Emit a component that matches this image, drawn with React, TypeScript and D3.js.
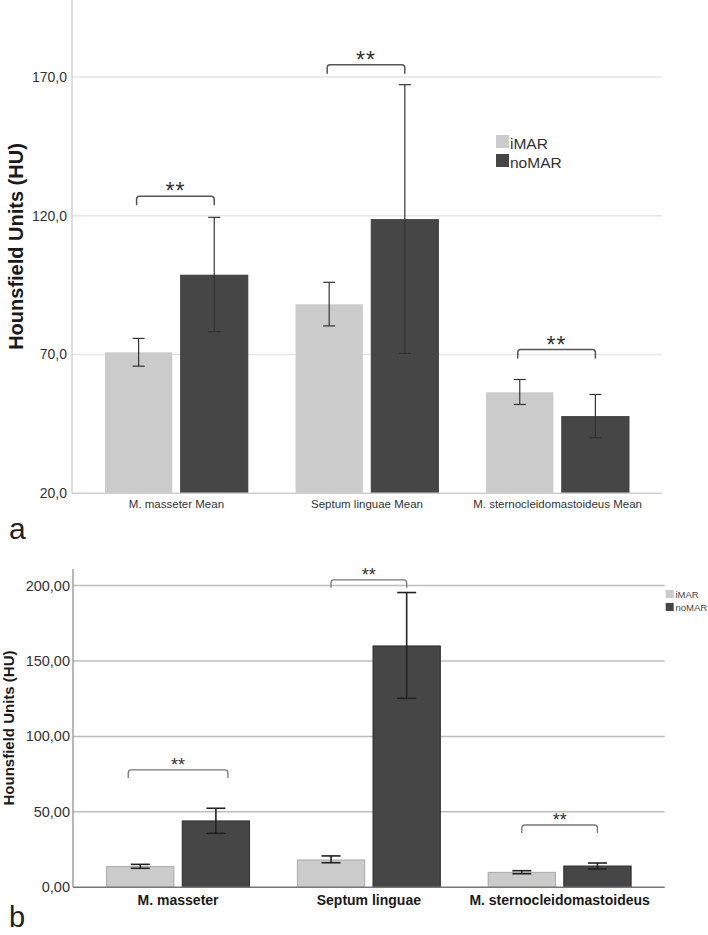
import React from "react";
import * as d3 from "d3";

// ---------- Data: panel a ----------
const catsA = ["M. masseter Mean", "Septum linguae Mean", "M. sternocleidomastoideus Mean"];
const iMAR_A = [70.8, 88.1, 56.4];
const iMAR_A_lo = [65.8, 80.3, 52.0];
const iMAR_A_hi = [75.8, 96.0, 61.0];
const noMAR_A = [98.6, 118.6, 47.7];
const noMAR_A_lo = [78.2, 70.4, 40.0];
const noMAR_A_hi = [119.4, 167.2, 55.6];
const bracketA = [127.0, 174.4, 71.8];
const ticksA = [20, 70, 120, 170];

// ---------- Data: panel b ----------
const catsB = ["M. masseter", "Septum linguae", "M. sternocleidomastoideus"];
const iMAR_B = [13.7, 18.1, 9.9];
const iMAR_B_lo = [12.6, 16.3, 9.0];
const iMAR_B_hi = [15.2, 20.8, 11.0];
const noMAR_B = [44.0, 160.0, 14.1];
const noMAR_B_lo = [35.8, 125.3, 12.1];
const noMAR_B_hi = [52.4, 195.4, 16.1];
const bracketB = [77.8, 203.8, 41.3];
const bracketPadB = [12, 0, 0];
const ticksB = [0, 50, 100, 150, 200];

const seriesNames = ["iMAR", "noMAR"];
const LIGHT = "#cbcbcb";
const DARK = "#464646";
const FONT = "'Liberation Sans', Arial, Helvetica, sans-serif";

const commaFmt = (digits: number) => (v: number) => d3.format(`.${digits}f`)(v).replace(".", ",");

function bracketPath(x1: number, x2: number, y: number, leg: number) {
  const r = 3;
  return `M${x1},${y + leg} L${x1},${y + r} Q${x1},${y} ${x1 + r},${y} L${x2 - r},${y} Q${x2},${y} ${x2},${y + r} L${x2},${y + leg}`;
}

function PanelA() {
  const x = d3.scaleBand<string>().domain(catsA).range([72, 662]).paddingInner(0.25).paddingOuter(0.173);
  const sub = d3.scaleBand<string>().domain(seriesNames).range([0, x.bandwidth()]).paddingInner(0.11);
  const y = d3.scaleLinear().domain([20, 197.7]).range([493.3, 0]);
  const fmt = commaFmt(1);
  const series = [
    { name: "iMAR", v: iMAR_A, lo: iMAR_A_lo, hi: iMAR_A_hi, fill: LIGHT },
    { name: "noMAR", v: noMAR_A, lo: noMAR_A_lo, hi: noMAR_A_hi, fill: DARK },
  ];
  const cap = 6;
  return (
    <g>
      {ticksA.filter((t) => t > 20).map((t) => (
        <line key={t} x1={72} x2={662} y1={y(t)} y2={y(t)} stroke="#e6e6e6" strokeWidth={1.5} />
      ))}
      {series.map((s) =>
        catsA.map((c, i) => {
          const bx = (x(c) as number) + (sub(s.name) as number);
          return (
            <rect key={s.name + c} x={bx} y={y(s.v[i])} width={sub.bandwidth()} height={y(20) - y(s.v[i])}
              fill={s.fill} stroke={s.name === "noMAR" ? "#3a3a3a" : "none"} strokeWidth={0.8} />
          );
        })
      )}
      {series.map((s) =>
        catsA.map((c, i) => {
          const cx = (x(c) as number) + (sub(s.name) as number) + sub.bandwidth() / 2;
          return (
            <g key={"e" + s.name + c} stroke="#333" strokeWidth={1.2}>
              <line x1={cx} x2={cx} y1={y(s.lo[i])} y2={y(s.hi[i])} />
              <line x1={cx - cap} x2={cx + cap} y1={y(s.lo[i])} y2={y(s.lo[i])} />
              <line x1={cx - cap} x2={cx + cap} y1={y(s.hi[i])} y2={y(s.hi[i])} />
            </g>
          );
        })
      )}
      <line x1={72} x2={72} y1={0} y2={y(20)} stroke="#c8c8c8" strokeWidth={1.2} />
      <line x1={72} x2={662} y1={y(20)} y2={y(20)} stroke="#cfcfcf" strokeWidth={1.5} />
      {ticksA.map((t) => (
        <text key={t} x={67} y={y(t) + 5} textAnchor="end" fontSize={14} fill="#333">{fmt(t)}</text>
      ))}
      {catsA.map((c) => (
        <text key={c} x={(x(c) as number) + x.bandwidth() / 2} y={508} textAnchor="middle" fontSize={11.5} fill="#333">{c}</text>
      ))}
      {catsA.map((c, i) => {
        const x1 = (x(c) as number) + (sub("iMAR") as number) + sub.bandwidth() / 2 - 2;
        const x2 = (x(c) as number) + (sub("noMAR") as number) + sub.bandwidth() / 2;
        const by = y(bracketA[i]);
        return (
          <g key={"b" + c}>
            <path d={bracketPath(x1, x2, by, 9)} fill="none" stroke="#555" strokeWidth={1.5} />
            <text x={(x1 + x2) / 2} y={by + 3} textAnchor="middle" fontSize={23} letterSpacing={1} fill="#333">**</text>
          </g>
        );
      })}
      <text transform={`translate(23,246.5) rotate(-90)`} textAnchor="middle" fontSize={20} fontWeight="bold" fill="#1a1a1a">Hounsfield Units (HU)</text>
      {seriesNames.map((n, i) => (
        <g key={n}>
          <rect x={496} y={135 + i * 19} width={13} height={13} fill={i === 0 ? LIGHT : DARK} />
          <text x={510} y={148.5 + i * 19} fontSize={15.5} fill="#333">{n}</text>
        </g>
      ))}
      <text x={9} y={539} fontSize={30} fill="#222">a</text>
    </g>
  );
}

function PanelB() {
  const x = d3.scaleBand<string>().domain(catsB).range([73, 664.7]).paddingInner(0.2506).paddingOuter(0.176);
  const sub = d3.scaleBand<string>().domain(seriesNames).range([0, x.bandwidth()]).paddingInner(0.11);
  const y = d3.scaleLinear().domain([0, 211]).range([887.3, 569]);
  const fmt = commaFmt(2);
  const series = [
    { name: "iMAR", v: iMAR_B, lo: iMAR_B_lo, hi: iMAR_B_hi, fill: LIGHT, stroke: "#a8a8a8" },
    { name: "noMAR", v: noMAR_B, lo: noMAR_B_lo, hi: noMAR_B_hi, fill: DARK, stroke: "#2e2e2e" },
  ];
  const cap = 9.5;
  return (
    <g>
      {ticksB.filter((t) => t > 0).map((t) => (
        <line key={t} x1={73} x2={664.7} y1={y(t)} y2={y(t)} stroke="#bdbdbd" strokeWidth={1.5} />
      ))}
      {series.map((s) =>
        catsB.map((c, i) => {
          const bx = (x(c) as number) + (sub(s.name) as number);
          return (
            <rect key={s.name + c} x={bx} y={y(s.v[i])} width={sub.bandwidth()} height={y(0) - y(s.v[i])}
              fill={s.fill} stroke={s.stroke} strokeWidth={1} />
          );
        })
      )}
      {series.map((s) =>
        catsB.map((c, i) => {
          const cx = (x(c) as number) + (sub(s.name) as number) + sub.bandwidth() / 2;
          return (
            <g key={"e" + s.name + c} stroke="#222" strokeWidth={1.6}>
              <line x1={cx} x2={cx} y1={y(s.lo[i])} y2={y(s.hi[i])} />
              <line x1={cx - cap} x2={cx + cap} y1={y(s.lo[i])} y2={y(s.lo[i])} />
              <line x1={cx - cap} x2={cx + cap} y1={y(s.hi[i])} y2={y(s.hi[i])} />
            </g>
          );
        })
      )}
      <line x1={73} x2={73} y1={569} y2={y(0)} stroke="#888" strokeWidth={1.2} />
      <line x1={73} x2={664.7} y1={y(0)} y2={y(0)} stroke="#777" strokeWidth={1.5} />
      {ticksB.map((t) => (
        <text key={t} x={70} y={y(t) + 5} textAnchor="end" fontSize={14.5} fill="#333">{fmt(t)}</text>
      ))}
      {catsB.map((c) => (
        <text key={c} x={(x(c) as number) + x.bandwidth() / 2} y={905} textAnchor="middle" fontSize={14} fontWeight="bold" fill="#1a1a1a">{c}</text>
      ))}
      {catsB.map((c, i) => {
        const x1 = (x(c) as number) + (sub("iMAR") as number) + sub.bandwidth() / 2 - bracketPadB[i];
        const x2 = (x(c) as number) + (sub("noMAR") as number) + sub.bandwidth() / 2 + bracketPadB[i];
        const by = y(bracketB[i]);
        return (
          <g key={"b" + c}>
            <path d={bracketPath(x1, x2, by, 8)} fill="none" stroke="#777" strokeWidth={1.3} />
            <text x={(x1 + x2) / 2} y={by + 1} textAnchor="middle" fontSize={18} fill="#333">**</text>
          </g>
        );
      })}
      <text transform={`translate(14,728) rotate(-90)`} textAnchor="middle" fontSize={15} fontWeight="bold" fill="#1a1a1a">Hounsfield Units (HU)</text>
      {seriesNames.map((n, i) => (
        <g key={n}>
          <rect x={665.7} y={590 + i * 13} width={8} height={8} fill={i === 0 ? LIGHT : DARK} />
          <text x={675.5} y={598 + i * 12.5} fontSize={9.5} fill="#444">{n}</text>
        </g>
      ))}
      <text x={9} y={927} fontSize={29} fill="#222">b</text>
    </g>
  );
}

export default function App() {
  return (
    <svg width={708} height={935} viewBox="0 0 708 935"
      style={{ position: "absolute", left: 0, top: 0, background: "#fff", fontFamily: FONT }}>
      <rect x={0} y={0} width={708} height={935} fill="#fff" />
      <PanelA />
      <PanelB />
    </svg>
  );
}
